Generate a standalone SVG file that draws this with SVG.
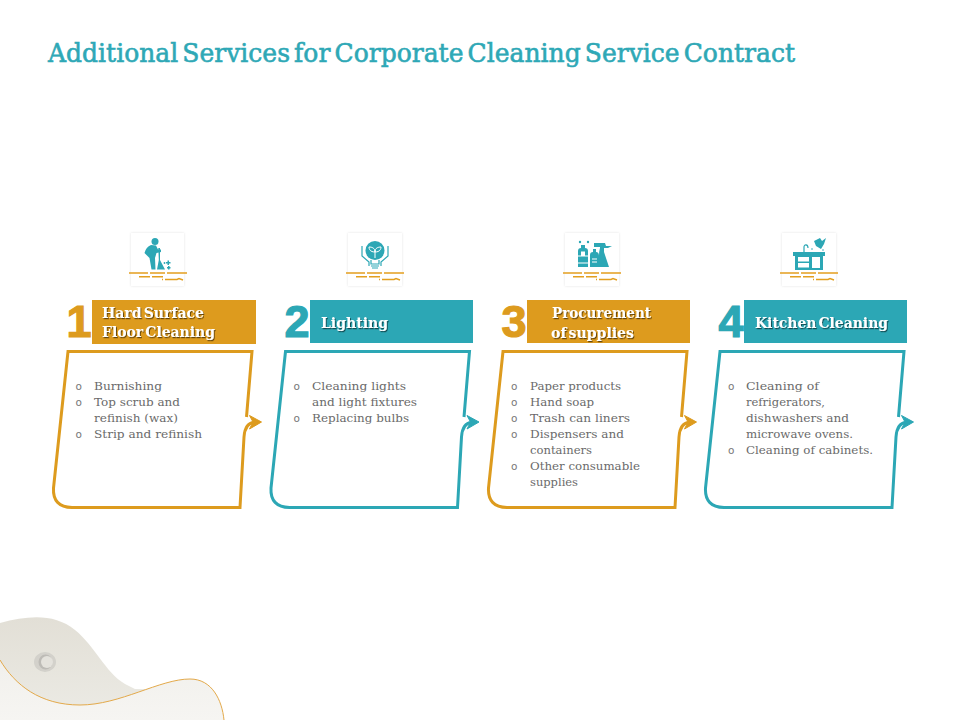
<svg xmlns="http://www.w3.org/2000/svg" width="960" height="720" viewBox="0 0 960 720">
<style>
text{font-family:"DejaVu Serif","Liberation Serif",serif}
.title{font-size:26px;fill:#2ea8b6;stroke:#2ea8b6;stroke-width:.6;word-spacing:-4px}
.hd{font-size:15px;font-weight:bold;fill:#fff;filter:url(#sh);word-spacing:-3px}
.num{font-family:"Liberation Sans",Arial,sans-serif;font-size:45px;font-weight:bold;text-anchor:end;stroke-width:1.2}
.b{font-size:11px;fill:#6a6a6a}
.bu{font-family:"DejaVu Sans",sans-serif;font-size:10.5px;fill:#777}
.o{fill:#dd9b1e}.t{fill:#2ca7b5}
.so{stroke:#dd9b1e}.st{stroke:#2ca7b5}
.card{fill:none;stroke-width:3;stroke-linejoin:miter}
.arr{stroke-width:1;stroke-linejoin:miter}
.ico{fill:#fff;filter:url(#soft)}
.dash{fill:none;stroke:#e39f1f;stroke-width:1.4}
.ic{fill:#2ca7b5}
.il{fill:none;stroke:#2ca7b5;stroke-width:1.2}
</style>
<defs>
<filter id="sh" x="-10%" y="-20%" width="120%" height="150%"><feDropShadow dx="1" dy="1.2" stdDeviation=".5" flood-color="#000" flood-opacity=".55"/></filter>
<filter id="soft" x="-10%" y="-10%" width="120%" height="120%"><feDropShadow dx="0" dy="0" stdDeviation="1.2" flood-color="#000" flood-opacity=".12"/></filter>
<filter id="blur" x="-20%" y="-20%" width="140%" height="140%"><feGaussianBlur stdDeviation=".7"/></filter>
<linearGradient id="blob" x1="0" y1="0" x2="0" y2="1"><stop offset="0" stop-color="#e2dfd6"/><stop offset="1" stop-color="#ecebe5"/></linearGradient>
<linearGradient id="blob2" x1="0" y1="0" x2="0" y2="1"><stop offset="0" stop-color="#f1f0ec"/><stop offset="1" stop-color="#f6f5f2"/></linearGradient>
<path id="cardp" d="M246.500 417 L252 351.500 H68 L53.500 488 Q52.500 507 72 507.500 H240 L244 437 Q245 423 254 422.500"/>
<path id="arrp" d="M249.500 415.500 L261.500 422 L249.500 429 L253 422Z"/>
<g id="dashes" class="dash"><path d="M0 273H19M21 273H36M38 273H58"/><path d="M10 276.700H21M23 276.700H34"/><path d="M33 279.500H34M36 279.500 H48L50 278.500L54 280"/></g>
</defs>

<g id="background">
<path d="M0 623 C30 615 55 614 75 630 C95 646 105 672 125 684 L135 689 L200 690 L224 720 H0Z" fill="url(#blob)"/>
<path d="M0 660 C15 685 40 705 80 705 C120 705 160 679 190 679 C212 679 222 700 224 720 H0Z" fill="url(#blob2)"/>
<path d="M0 660 C15 685 40 705 80 705 C120 705 160 679 190 679 C212 679 222 700 224 720" fill="none" stroke="#e3a94a" stroke-width="1"/>
<g filter="url(#blur)">
<ellipse cx="45" cy="662" rx="11" ry="10" fill="#d3d1cb"/>
<ellipse cx="45.500" cy="662" rx="7" ry="7.500" fill="#bdbbb6"/>
<circle cx="47" cy="662" r="6" fill="#e4e2dc"/>
</g>
</g>

<text id="title" class="title" x="48" y="62" textLength="747" lengthAdjust="spacingAndGlyphs">Additional Services for Corporate Cleaning Service Contract</text>

<g id="connectors">
<use href="#arrp" class="arr o so"/>
<use href="#arrp" x="217.500" class="arr t st"/>
<use href="#arrp" x="435" class="arr o so"/>
<use href="#arrp" x="652" class="arr t st"/>
</g>

<g id="node1">
<rect class="ico" x="131" y="233" width="53" height="53"/>
<g>
<circle class="ic" cx="155" cy="241.500" r="3.500"/>
<path class="ic" d="M151 245 L156 245.500 L158 249.500 H161 V252 L156.500 253 L155 258 L155.500 269.500 H151.500 L149.500 258 L144.500 253 Q146 247 151 245Z"/>
<path class="ic" d="M158.300 248H160V260L165 269.500H157L158.800 260Z"/>
<path class="ic" d="M167.500 260.500h1.500v1.500h1.500v1.500h-1.500v1.500h-1.500v-1.500h-1.500v-1.500h1.500Z"/>
<path class="ic" d="M168 266h1.500v1h1v1.500h-1v1h-1.500v-1h-1v-1.500h1Z"/>
<circle class="ic" cx="164.500" cy="263" r=".9"/>
<use href="#dashes" x="129"/>
</g>
<rect class="o" x="92" y="300" width="164" height="44"/>
<text class="num o so" x="91.500" y="337">1</text>
<text class="hd" x="102" y="318" textLength="102" lengthAdjust="spacingAndGlyphs">Hard Surface</text>
<text class="hd" x="102" y="337" textLength="113" lengthAdjust="spacingAndGlyphs">Floor Cleaning</text>
<use href="#cardp" class="card so"/>
<text class="bu" x="75.500" y="390">o</text><text class="b" x="94" y="390" textLength="68" lengthAdjust="spacingAndGlyphs">Burnishing</text>
<text class="bu" x="75.500" y="406">o</text><text class="b" x="94" y="406" textLength="86" lengthAdjust="spacingAndGlyphs">Top scrub and</text>
<text class="b" x="94" y="422" textLength="84" lengthAdjust="spacingAndGlyphs">refinish (wax)</text>
<text class="bu" x="75.500" y="438">o</text><text class="b" x="94" y="438" textLength="108" lengthAdjust="spacingAndGlyphs">Strip and refinish</text>
</g>

<g id="node2">
<rect class="ico" x="348" y="233" width="54" height="53"/>
<g>
<circle class="ic" cx="375" cy="250.500" r="9.500"/>
<path d="M375 258V250M375 252C370 252 369 249 369 247C372 247 375 248 375 252C375 248 378 247 381 247C381 249 380 252 375 252" fill="none" stroke="#fff" stroke-width="1"/>
<path class="il" d="M371 260V264H379V260M371 266H379M372 268H378"/>
<path class="il" d="M362 246V256L369 262V266M388 246V256L381 262V266"/>
<use href="#dashes" x="346"/>
</g>
<rect class="t" x="310" y="300" width="163" height="43"/>
<text class="num t st" x="309.500" y="337">2</text>
<text class="hd" x="321" y="328" textLength="67" lengthAdjust="spacingAndGlyphs">Lighting</text>
<use href="#cardp" x="217.500" class="card st"/>
<text class="bu" x="293.500" y="390">o</text><text class="b" x="312" y="390" textLength="94" lengthAdjust="spacingAndGlyphs">Cleaning lights</text>
<text class="b" x="312" y="406" textLength="105" lengthAdjust="spacingAndGlyphs">and light fixtures</text>
<text class="bu" x="293.500" y="422">o</text><text class="b" x="312" y="422" textLength="97" lengthAdjust="spacingAndGlyphs">Replacing bulbs</text>
</g>

<g id="node3">
<rect class="ico" x="565" y="233" width="54" height="53"/>
<g>
<path class="ic" d="M578 251Q578 248 581 248V245H585V248Q588 248 588 251V267H578Z"/>
<path class="ic" d="M590 255Q590 252 593 252V249H596V252Q599 252 599 256V267H590Z"/>
<path class="ic" d="M594 243H605L606 246H612L608 248H604L604 252L609 267H599V256Q599 251 600 248V247H594Z"/>
<path d="M578 256H588M578 263H588M592 259H597M592 262H597" stroke="#fff" fill="none"/>
<path d="M581 251.500H585V256H581Z" fill="#fff"/>
<circle class="ic" cx="580" cy="242" r="1.200"/><circle class="ic" cx="588" cy="242" r="1.200"/><circle class="ic" cx="596" cy="246" r="1"/>
<use href="#dashes" x="563"/>
</g>
<rect class="o" x="527" y="300" width="163" height="43"/>
<text class="num o so" x="526.500" y="337">3</text>
<text class="hd" x="552" y="318" textLength="99" lengthAdjust="spacingAndGlyphs">Procurement</text>
<text class="hd" x="551" y="338" textLength="83" lengthAdjust="spacingAndGlyphs">of supplies</text>
<use href="#cardp" x="435" class="card so"/>
<text class="bu" x="511" y="390">o</text><text class="b" x="530" y="390" textLength="91" lengthAdjust="spacingAndGlyphs">Paper products</text>
<text class="bu" x="511" y="406">o</text><text class="b" x="530" y="406" textLength="64" lengthAdjust="spacingAndGlyphs">Hand soap</text>
<text class="bu" x="511" y="422">o</text><text class="b" x="530" y="422" textLength="100" lengthAdjust="spacingAndGlyphs">Trash can liners</text>
<text class="bu" x="511" y="438">o</text><text class="b" x="530" y="438" textLength="94" lengthAdjust="spacingAndGlyphs">Dispensers and</text>
<text class="b" x="530" y="454" textLength="62" lengthAdjust="spacingAndGlyphs">containers</text>
<text class="bu" x="511" y="470">o</text><text class="b" x="530" y="470" textLength="110" lengthAdjust="spacingAndGlyphs">Other consumable</text>
<text class="b" x="530" y="486" textLength="48" lengthAdjust="spacingAndGlyphs">supplies</text>
</g>

<g id="node4">
<rect class="ico" x="782" y="233" width="54" height="53"/>
<g>
<path class="ic" d="M793 252H825V256H823V270H795V256H793Z"/>
<rect x="798" y="257" width="11" height="4.500" fill="#fff"/><rect x="798" y="263" width="11" height="4.500" fill="#fff"/><rect x="812" y="257" width="8" height="11" fill="#fff"/>
<path class="il" d="M804 252V247C804 244 808 244 808 248"/>
<path class="ic" d="M814 241L820 238L822 241L826 238L824 244L821 249L816 246Z"/>
<circle class="ic" cx="812" cy="249" r=".8"/><circle class="ic" cx="823" cy="250" r=".8"/>
<use href="#dashes" x="780"/>
</g>
<rect class="t" x="744" y="300" width="163" height="43"/>
<text class="num t st" x="743.500" y="337">4</text>
<text class="hd" x="755" y="328" textLength="133" lengthAdjust="spacingAndGlyphs">Kitchen Cleaning</text>
<use href="#cardp" x="652" class="card st"/>
<text class="bu" x="728" y="390">o</text><text class="b" x="746" y="390" textLength="73" lengthAdjust="spacingAndGlyphs">Cleaning of</text>
<text class="b" x="746" y="406" textLength="79" lengthAdjust="spacingAndGlyphs">refrigerators,</text>
<text class="b" x="746" y="422" textLength="103" lengthAdjust="spacingAndGlyphs">dishwashers and</text>
<text class="b" x="746" y="438" textLength="107" lengthAdjust="spacingAndGlyphs">microwave ovens.</text>
<text class="bu" x="728" y="454">o</text><text class="b" x="746" y="454" textLength="127" lengthAdjust="spacingAndGlyphs">Cleaning of cabinets.</text>
</g>
</svg>
